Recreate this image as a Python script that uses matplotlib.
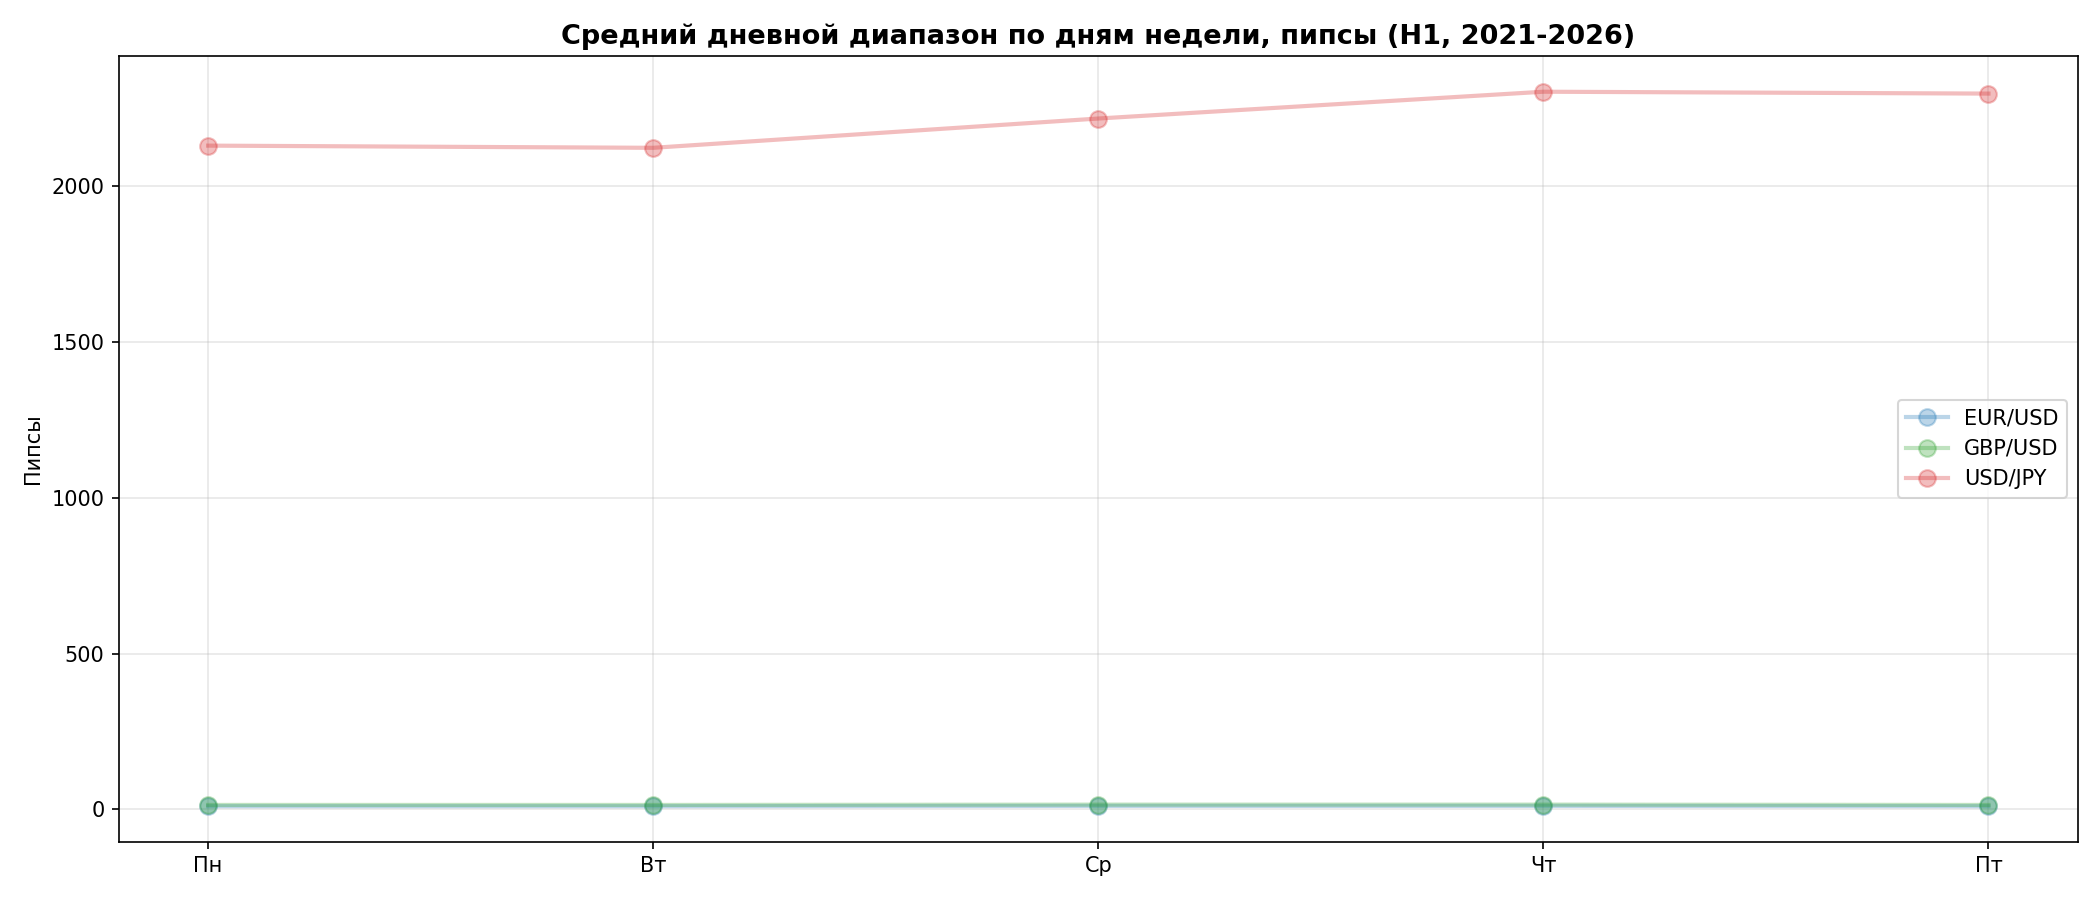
import matplotlib
matplotlib.use('Agg')
import matplotlib.pyplot as plt

days = ['Пн', 'Вт', 'Ср', 'Чт', 'Пт']
eurusd = [10, 10, 11, 11, 10]
gbpusd = [14, 14, 15, 15, 14]
usdjpy = [2130, 2123, 2217, 2303, 2297]

fig, ax = plt.subplots(figsize=(14, 6))

ax.plot(days, eurusd, marker='o', linewidth=2, markersize=8, alpha=0.3, color='#1f77b4', label='EUR/USD')
ax.plot(days, gbpusd, marker='o', linewidth=2, markersize=8, alpha=0.3, color='#2ca02c', label='GBP/USD')
ax.plot(days, usdjpy, marker='o', linewidth=2, markersize=8, alpha=0.3, color='#d62728', label='USD/JPY')

ax.set_title('Средний дневной диапазон по дням недели, пипсы (H1, 2021-2026)', fontsize=13, fontweight='bold')
ax.set_ylabel('Пипсы')
ax.grid(True, alpha=0.3)
ax.legend(loc='center right')

plt.tight_layout()
plt.savefig('out.png', dpi=150)
